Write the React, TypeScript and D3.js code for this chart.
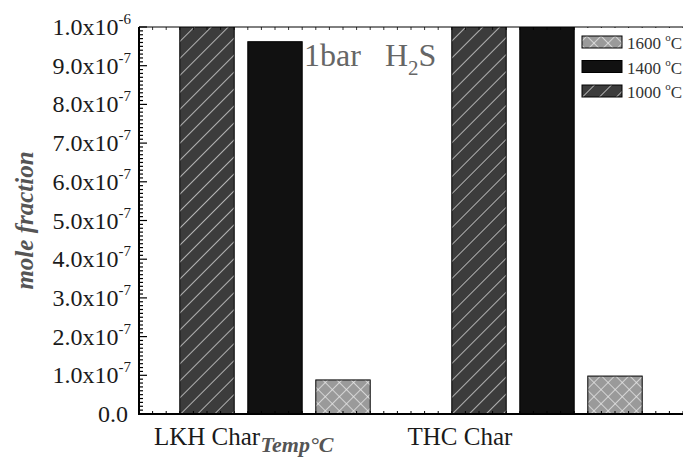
import * as d3 from "d3";
import React, { useEffect, useRef } from "react";

// categories and series
const categories = ["LKH Char", "THC Char"];
const seriesNames = ["1000", "1400", "1600"];
// mole fraction per category, one array per series (bars above 1e-6 are clipped)
const values1000 = [1.3e-6, 1.3e-6];
const values1400 = [0.962e-6, 1.3e-6];
const values1600 = [0.088e-6, 0.098e-6];
// y ticks: mantissa and exponent
const yTickValues = [0, 1e-7, 2e-7, 3e-7, 4e-7, 5e-7, 6e-7, 7e-7, 8e-7, 9e-7, 1e-6];
const yTickMantissa = ["0.0", "1.0", "2.0", "3.0", "4.0", "5.0", "6.0", "7.0", "8.0", "9.0", "1.0"];
const yTickExp = ["", "-7", "-7", "-7", "-7", "-7", "-7", "-7", "-7", "-7", "-6"];
// legend order (top to bottom)
const legendOrder = ["1600", "1400", "1000"];

const W = 683, H = 458;
const left = 139, right = 683, top = 27, bottom = 414;

function App() {
  const ref = useRef(null);

  useEffect(() => {
    document.body.style.margin = "0";
    const svg = d3.select(ref.current);
    svg.selectAll("*").remove();

    const x = d3.scaleLinear().domain([0, 8]).range([left, right]);
    const y = d3.scaleLinear().domain([0, 1e-6]).range([bottom, top]);

    const defs = svg.append("defs");
    // diagonal hatch
    const p1 = defs.append("pattern").attr("id", "hatch")
      .attr("patternUnits", "userSpaceOnUse").attr("width", 12).attr("height", 12)
      .attr("patternTransform", "rotate(45)");
    p1.append("rect").attr("width", 12).attr("height", 12).attr("fill", "#3c3c3c");
    p1.append("line").attr("x1", 0).attr("y1", 0).attr("x2", 0).attr("y2", 12)
      .attr("stroke", "#d0d0d0").attr("stroke-width", 1.6);
    // cross hatch
    const p2 = defs.append("pattern").attr("id", "cross")
      .attr("patternUnits", "userSpaceOnUse").attr("width", 10).attr("height", 10)
      .attr("patternTransform", "rotate(45)");
    p2.append("rect").attr("width", 10).attr("height", 10).attr("fill", "#9a9a9a");
    p2.append("line").attr("x1", 0).attr("y1", 0).attr("x2", 0).attr("y2", 10)
      .attr("stroke", "#e8e8e8").attr("stroke-width", 1.5);
    p2.append("line").attr("x1", 0).attr("y1", 0).attr("x2", 10).attr("y2", 0)
      .attr("stroke", "#e8e8e8").attr("stroke-width", 1.5);

    defs.append("clipPath").attr("id", "plot")
      .append("rect").attr("x", left).attr("y", top).attr("width", right - left).attr("height", bottom - top);

    const fills = { "1000": "url(#hatch)", "1400": "#111", "1600": "url(#cross)" };
    const seriesValues = { "1000": values1000, "1400": values1400, "1600": values1600 };

    // bar positions in x units: groups start at 1 and 5, one unit per bar
    const groupStart = [1, 5];
    const barW = x(0.8) - x(0);
    const g = svg.append("g").attr("clip-path", "url(#plot)");
    categories.forEach((c, ci) => {
      seriesNames.forEach((s, si) => {
        const v = seriesValues[s][ci];
        const cx = x(groupStart[ci] + si);
        g.append("rect")
          .attr("x", cx - barW / 2).attr("y", y(v))
          .attr("width", barW).attr("height", bottom - y(v))
          .attr("fill", fills[s]).attr("stroke", "#000").attr("stroke-width", 1);
      });
    });

    // axes frame
    svg.append("line").attr("x1", left).attr("x2", right).attr("y1", top).attr("y2", top)
      .attr("stroke", "#000").attr("stroke-width", 1);
    svg.append("line").attr("x1", left).attr("x2", right).attr("y1", bottom).attr("y2", bottom)
      .attr("stroke", "#000").attr("stroke-width", 2);
    svg.append("line").attr("x1", left).attr("x2", left).attr("y1", top).attr("y2", bottom + 1)
      .attr("stroke", "#000").attr("stroke-width", 2);

    // y ticks (major + minor)
    const minor = d3.range(0, 101).map((d) => d * 1e-8);
    svg.append("g").selectAll("line").data(minor).join("line")
      .attr("x1", left).attr("x2", (d, i) => left + (i % 10 === 0 ? 8 : 4))
      .attr("y1", (d) => y(d)).attr("y2", (d) => y(d))
      .attr("stroke", "#000").attr("stroke-width", 1.2);
    // x minor ticks
    const xMinor = d3.range(0, 8.01, 0.2);
    svg.append("g").selectAll("line").data(xMinor).join("line")
      .attr("x1", (d) => x(d)).attr("x2", (d) => x(d))
      .attr("y1", bottom).attr("y2", bottom - 3)
      .attr("stroke", "#000").attr("stroke-width", 1);
    svg.append("g").selectAll("line").data(xMinor).join("line")
      .attr("x1", (d) => x(d)).attr("x2", (d) => x(d))
      .attr("y1", top).attr("y2", top + 3)
      .attr("stroke", "#000").attr("stroke-width", 0.8);

    // y tick labels
    const yl = svg.append("g").attr("font-family", "Liberation Serif, serif").attr("fill", "#1a1a1a");
    yTickValues.forEach((v, i) => {
      const t = yl.append("text").attr("x", yTickExp[i] ? 131 : 128).attr("y", y(v) + 8)
        .attr("text-anchor", "end").attr("font-size", 24);
      if (yTickExp[i]) {
        t.append("tspan").text(yTickMantissa[i] + "x10");
        t.append("tspan").attr("font-size", 15).attr("dy", -11).text(yTickExp[i]);
      } else {
        t.text(yTickMantissa[i]);
      }
    });

    // category labels
    const labelPos = [1, 4.72];
    svg.append("g").selectAll("text").data(categories).join("text")
      .attr("x", (d, i) => x(labelPos[i])).attr("y", 445)
      .attr("text-anchor", "middle").attr("font-family", "Liberation Serif, serif")
      .attr("font-size", 25).attr("fill", "#1a1a1a").text((d) => d);

    // axis titles
    svg.append("text").attr("x", 297).attr("y", 452).attr("text-anchor", "middle")
      .attr("font-family", "Liberation Serif, serif").attr("font-style", "italic")
      .attr("font-weight", "bold").attr("font-size", 22).attr("fill", "#555").text("Temp°C");
    svg.append("text").attr("transform", `translate(33,${(top + bottom) / 2}) rotate(-90)`)
      .attr("text-anchor", "middle").attr("font-family", "Liberation Serif, serif")
      .attr("font-style", "italic").attr("font-weight", "bold").attr("font-size", 25)
      .attr("fill", "#555").text("mole fraction");

    // annotation
    const ann = svg.append("g").attr("font-family", "Liberation Serif, serif").attr("font-size", 32).attr("fill", "#666");
    ann.append("text").attr("x", 304).attr("y", 66).text("1bar");
    const h2s = ann.append("text").attr("x", 385).attr("y", 66);
    h2s.append("tspan").text("H");
    h2s.append("tspan").attr("font-size", 21).attr("dy", 9).text("2");
    h2s.append("tspan").attr("dy", -9).text("S");

    // legend
    const lg = svg.append("g");
    lg.append("rect").attr("x", 576).attr("y", top + 1).attr("width", right - 576).attr("height", 82).attr("fill", "#fff");
    legendOrder.forEach((s, i) => {
      const yy = 36 + i * 24.5;
      lg.append("rect").attr("x", 582).attr("y", yy).attr("width", 40).attr("height", 12)
        .attr("fill", fills[s]).attr("stroke", "#000").attr("stroke-width", 1);
      const t = lg.append("text").attr("x", 627).attr("y", yy + 13)
        .attr("font-family", "Liberation Serif, serif").attr("font-size", 17).attr("fill", "#333");
      t.append("tspan").text(s + " ");
      t.append("tspan").attr("font-size", 11).attr("dy", -8).text("o");
      t.append("tspan").attr("dy", 8).text("C");
    });
  }, []);

  return (
    <div>
      <svg ref={ref} width={W} height={H} style={{ display: "block", background: "#fff" }}></svg>
    </div>
  );
}

export default App;
